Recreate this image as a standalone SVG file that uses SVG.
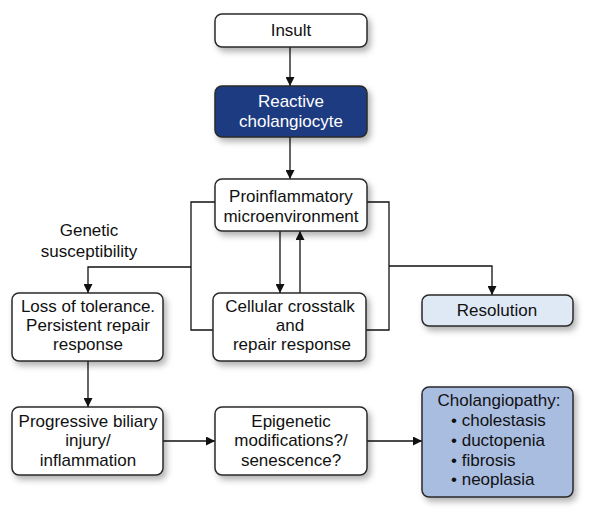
<svg xmlns="http://www.w3.org/2000/svg" width="600" height="520" viewBox="0 0 600 520">
<defs>
<filter id="sh" x="-20%" y="-20%" width="150%" height="160%">
<feDropShadow dx="3" dy="4" stdDeviation="3" flood-color="#000" flood-opacity="0.3"/>
</filter>
<marker id="ah" viewBox="0 0 10 10" refX="10" refY="5" markerWidth="9" markerHeight="9" markerUnits="userSpaceOnUse" orient="auto">
<path d="M0,0 L10,5 L0,10 z" fill="#111"/>
</marker>
<style>
.box{fill:#fff;stroke:#2a2a2a;stroke-width:1.5;filter:url(#sh)}
.dark{fill:#1d3a80}
.light{fill:#dfe8f5}
.mid{fill:#a9bde1}
text{font-family:"Liberation Sans",Arial,sans-serif;font-size:17px;fill:#111;text-anchor:middle}
.w{fill:#fff}
.l{text-anchor:start}
.c{fill:none;stroke:#111;stroke-width:1.3}
.a{marker-end:url(#ah)}
</style>
</defs>
<rect width="600" height="520" fill="#fff"/>
<g id="connectors">
<line class="c a" x1="290" y1="47" x2="290" y2="86"/>
<line class="c a" x1="290" y1="137" x2="290" y2="179"/>
<polyline class="c" points="215,202 191,202 191,330 213,330"/>
<polyline class="c a" points="191,267 88,267 88,293"/>
<polyline class="c" points="367,202 389,202 389,330 366,330"/>
<polyline class="c a" points="389,266 492,266 492,295"/>
<line class="c a" x1="280" y1="231" x2="280" y2="293"/>
<line class="c a" x1="300" y1="293" x2="300" y2="231"/>
<line class="c a" x1="88" y1="361" x2="88" y2="407"/>
<line class="c a" x1="163" y1="441" x2="215" y2="441"/>
<line class="c a" x1="367" y1="441" x2="422" y2="441"/>
</g>
<g id="insult">
<rect class="box" x="215" y="14" width="152" height="33" rx="7"/>
<text x="291" y="36">Insult</text>
</g>
<g id="reactive">
<rect class="box dark" x="215" y="86" width="152" height="51" rx="7"/>
<text class="w" x="291" y="107">Reactive</text>
<text class="w" x="291" y="127">cholangiocyte</text>
</g>
<g id="proinflammatory">
<rect class="box" x="215" y="179" width="152" height="52" rx="7"/>
<text x="291" y="202">Proinflammatory</text>
<text x="291" y="222">microenvironment</text>
</g>
<g id="genetic">
<text x="89" y="236">Genetic</text>
<text x="89" y="257">susceptibility</text>
</g>
<g id="loss">
<rect class="box" x="12" y="293" width="151" height="68" rx="7"/>
<text x="88" y="312">Loss of tolerance.</text>
<text x="88" y="331">Persistent repair</text>
<text x="88" y="350">response</text>
</g>
<g id="cellular">
<rect class="box" x="213" y="293" width="153" height="68" rx="7"/>
<text x="290" y="312">Cellular crosstalk</text>
<text x="290" y="331">and</text>
<text x="292" y="350">repair response</text>
</g>
<g id="resolution">
<rect class="box light" x="422" y="295" width="151" height="31" rx="7"/>
<text x="497" y="316">Resolution</text>
</g>
<g id="progressive">
<rect class="box" x="12" y="407" width="151" height="68" rx="7"/>
<text x="88" y="427">Progressive biliary</text>
<text x="88" y="446">injury/</text>
<text x="88" y="466">inflammation</text>
</g>
<g id="epigenetic">
<rect class="box" x="215" y="407" width="152" height="68" rx="7"/>
<text x="291" y="427">Epigenetic</text>
<text x="291" y="446">modifications?/</text>
<text x="291" y="466">senescence?</text>
</g>
<g id="cholangiopathy">
<rect class="box mid" x="422" y="387" width="151" height="110" rx="7"/>
<text x="499" y="406">Cholangiopathy:</text>
<text class="l" x="451" y="426">• cholestasis</text>
<text class="l" x="451" y="446">• ductopenia</text>
<text class="l" x="451" y="466">• fibrosis</text>
<text class="l" x="451" y="485">• neoplasia</text>
</g>
</svg>
